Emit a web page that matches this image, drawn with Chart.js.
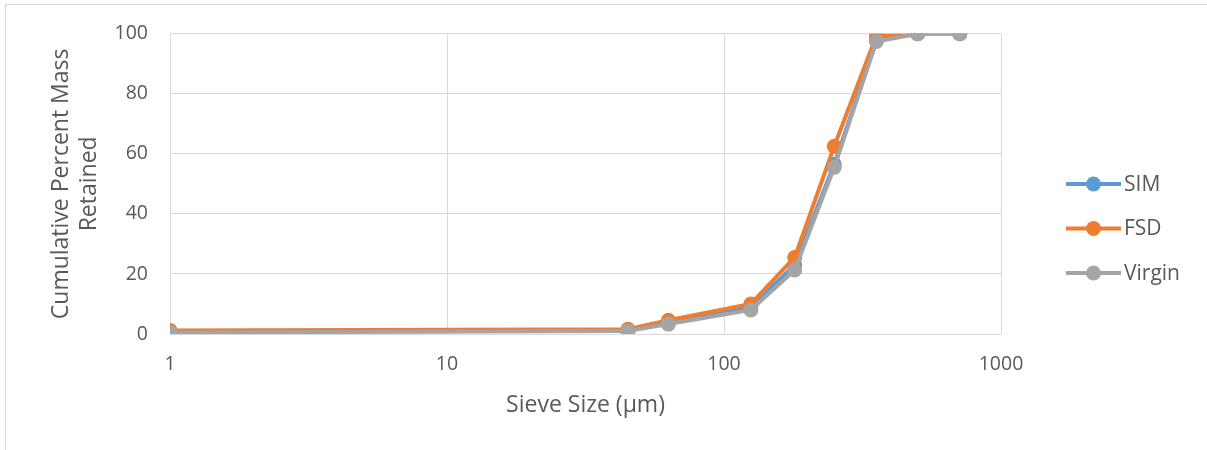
<!DOCTYPE html>
<html>
<head>
<meta charset="utf-8">
<script src="https://cdn.jsdelivr.net/npm/chart.js@4"></script>
<style>
  html, body { margin: 0; padding: 0; background: #fff; }
  #wrap { width: 1207px; height: 450px; }
</style>
</head>
<body>
<div id="wrap"><canvas id="sieve" width="1207" height="450"></canvas></div>
<script>
// sieve sizes in micrometres
var sizes = [1, 45, 63, 125, 180, 250, 355, 500, 710];
var sim    = [0.7, 1.2, 3.8, 8.8, 23.0, 56.5, 97.8, 100, 100];
var fsd    = [1.2, 1.6, 4.6, 10.0, 25.5, 62.5, 99.3, 100, 100];
var virgin = [0.5, 1.0, 3.3, 8.0, 21.3, 55.5, 97.4, 100, 100];
var xTicks = [1, 10, 100, 1000];
var yTicks = [0, 20, 40, 60, 80, 100];

var names = ['SIM', 'FSD', 'Virgin'];
var colors = ['#5B9BD5', '#ED7D31', '#A5A5A5'];
var series = [sim, fsd, virgin];

function points(vals) {
    return sizes.map(function (s, i) { return { x: s, y: vals[i] }; });
}

var font = "'Open Sans', sans-serif";
var textColor = '#595959';

// frame + legend drawn by hand
var extras = {
    id: 'extras',
    beforeDraw: function (chart) {
        var c = chart.ctx;
        c.save();
        c.fillStyle = '#fff';
        c.fillRect(0, 0, chart.width, chart.height);
        c.strokeStyle = '#d9d9d9';
        c.lineWidth = 1;
        c.strokeRect(5.5, 4.5, chart.width + 10, chart.height + 10);
        c.restore();
    },
    afterDraw: function (chart) {
        var c = chart.ctx;
        c.save();
        var x0 = 1066, y0 = 184, gap = 44.5;
        names.forEach(function (n, i) {
            var y = y0 + i * gap;
            c.strokeStyle = colors[i];
            c.lineWidth = 4;
            c.beginPath();
            c.moveTo(x0, y);
            c.lineTo(x0 + 55, y);
            c.stroke();
            c.fillStyle = colors[i];
            c.beginPath();
            c.arc(x0 + 27.5, y, 7.5, 0, Math.PI * 2);
            c.fill();
            c.fillStyle = textColor;
            c.font = '21px ' + font;
            c.textBaseline = 'middle';
            c.fillText(n, x0 + 58, y + 1);
        });
        c.restore();
    }
};

var ctx = document.getElementById('sieve').getContext('2d');

var chart = new Chart(ctx, {
    type: 'line',
    data: {
        datasets: series.map(function (vals, i) {
            return {
                label: names[i],
                data: points(vals),
                borderColor: colors[i],
                backgroundColor: colors[i],
                borderWidth: 4,
                pointRadius: 7.5,
                pointHoverRadius: 7.5,
                pointBorderWidth: 0,
                tension: 0,
                order: 3 - i
            };
        })
    },
    options: {
        responsive: false,
        animation: false,
        layout: { padding: { left: 0, right: 206, top: 33, bottom: 0 } },
        plugins: {
            legend: { display: false },
            tooltip: { enabled: false }
        },
        scales: {
            x: {
                type: 'logarithmic',
                min: 1,
                max: 1000,
                afterBuildTicks: function (axis) {
                    axis.ticks = xTicks.map(function (v) { return { value: v }; });
                },
                afterFit: function (axis) { axis.height = 116; },
                ticks: {
                    color: textColor,
                    font: { size: 19.5, family: font },
                    padding: 19,
                    maxRotation: 0,
                    callback: function (v) { return String(v); }
                },
                grid: { color: '#d9d9d9', lineWidth: 1, drawTicks: false },
                border: { display: false },
                title: {
                    display: true,
                    text: 'Sieve Size (\u03bcm)',
                    color: textColor,
                    font: { size: 23, family: font, lineHeight: 1.2 },
                    padding: { top: 0, bottom: 31 }
                }
            },
            y: {
                min: 0,
                max: 100,
                afterBuildTicks: function (axis) {
                    axis.ticks = yTicks.map(function (v) { return { value: v }; });
                },
                afterFit: function (axis) { axis.width = 170; },
                ticks: {
                    color: textColor,
                    font: { size: 19.5, family: font },
                    padding: 22
                },
                grid: { color: '#d9d9d9', lineWidth: 1, drawTicks: false },
                border: { color: '#d9d9d9' },
                title: {
                    display: true,
                    text: ['Cumulative Percent Mass', 'Retained'],
                    color: textColor,
                    font: { size: 23, family: font, lineHeight: 1.2 },
                    padding: { top: 48, bottom: 0 }
                }
            }
        }
    },
    plugins: [extras]
});
</script>
</body>
</html>
